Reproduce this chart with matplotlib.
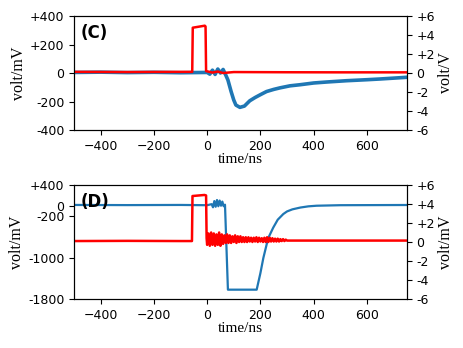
import numpy as np
import matplotlib
matplotlib.use("Agg")
import matplotlib.pyplot as plt

# ---- panel (C) ----
# blue trace, left axis (mV)
c_blue_t = [-500, -400, -300, -200, -100, 0, 10, 20, 30, 40, 50, 60, 70, 78, 90, 100, 108,
            123, 140, 160, 180, 200, 223, 250, 274, 311, 350, 400, 450, 524, 600, 649, 700, 750]
c_blue_v = [4, 6, 3, 5, 2, 4, -8, 20, -10, 28, 0, 25, -15, -49, -130, -190, -225,
            -241, -232, -195, -172, -152, -130, -115, -104, -90, -82, -70, -63, -54, -47, -42, -36, -30]
# red trace, right axis (V)
c_red_t = [-500, -300, -100, -56, -54, -9, -6, -4, 20, 40, 60, 100, 300, 500, 750]
c_red_v = [0.12, 0.1, 0.12, 0.12, 4.77, 4.98, 4.9, 0.2, 0.05, 0.15, 0.0, 0.1, 0.08, 0.07, 0.07]

# ---- panel (D) ----
# blue trace, left axis (mV)
d_blue_t = [-500, -300, -100, 0, 17, 22, 27, 32, 37, 42, 47, 52, 57, 62, 67, 78, 186,
            200, 211, 229, 248, 265, 286, 300, 320, 350, 380, 411, 500, 750]
d_blue_v = [15, 12, 15, 10, 30, -30, 90, -20, 110, -10, 100, 0, 80, -10, 20, -1620, -1620,
            -1300, -1009, -629, -424, -270, -160, -110, -70, -35, -12, 0, 10, 14]
# red trace, right axis (V)
d_red_t = [-500, -300, -100, -57, -55, -10, -4, -2, 0, 5, 10, 15, 20, 25, 30, 35, 40, 45,
           50, 55, 60, 65, 70, 75, 80, 85, 90, 95, 100, 105, 110, 115, 120, 125, 130, 135,
           140, 145, 150, 155, 160, 165, 170, 175, 180, 185, 190, 195, 200, 205, 210, 215,
           220, 225, 230, 235, 240, 245, 250, 255, 260, 265, 270, 275, 280, 285, 290, 295,
           300, 500, 750]
d_red_v = [0.1, 0.12, 0.1, 0.1, 4.84, 4.95, 4.9, 0.4, -0.3, 0.9, -0.4, 1.0, -0.3, 0.9, -0.4, 0.8,
           -0.3, 1.0, -0.4, 0.8, -0.2, 0.7, -0.1, 0.8, -0.1, 0.7, -0.1, 0.6, 0.0, 0.7, -0.1,
           0.6, 0.0, 0.6, 0.0, 0.5, 0.0, 0.5, 0.0, 0.5, 0.05, 0.45, 0.0, 0.45, 0.05, 0.5,
           0.0, 0.45, 0.05, 0.4, 0.0, 0.45, 0.0, 0.5, 0.0, 0.45, 0.05, 0.4, 0.05, 0.35,
           0.05, 0.35, 0.05, 0.3, 0.1, 0.3, 0.1, 0.25, 0.15, 0.15, 0.15]

x_ticks = [-400, -200, 0, 200, 400, 600]
c_left_ticks = [400, 200, 0, -200, -400]
c_left_labels = ["+400", "+200", "0", "-200", "-400"]
d_left_ticks = [400, 0, -200, -1000, -1800]
d_left_labels = ["+400", "0", "-200", "-1000", "-1800"]
right_ticks = [6, 4, 2, 0, -2, -4, -6]
right_labels = ["+6", "+4", "+2", "0", "-2", "-4", "-6"]

BLUE = "#1f77b4"
RED = "#ff0000"
serif = "Liberation Serif"

fig = plt.figure(figsize=(4.63, 3.48), dpi=100)
axC = fig.add_axes([0.1598, 0.6264, 0.719, 0.3276])
axD = fig.add_axes([0.1598, 0.1408, 0.719, 0.3276])


def setup(ax, bt, bv, rt, rv, lticks, llabels, ylim, rlabel, tag, blw):
    ax.plot(bt, bv, color=BLUE, lw=blw)
    ax.set_xlim(-500, 750)
    ax.set_ylim(*ylim)
    ax.set_xticks(x_ticks)
    ax.set_yticks(lticks)
    ax.set_yticklabels(llabels)
    ax.tick_params(labelsize=9)
    ax.set_xlabel("time/ns", family=serif, fontsize=11, labelpad=0)
    ax.set_ylabel("volt/mV", family=serif, fontsize=11.5, labelpad=2)
    ax.text(0.02, 0.93, tag, transform=ax.transAxes, fontsize=12,
            fontweight="bold", va="top", ha="left")
    tw = ax.twinx()
    tw.plot(rt, rv, color=RED, lw=1.8)
    tw.set_ylim(-6, 6)
    tw.set_yticks(right_ticks)
    tw.set_yticklabels(right_labels)
    tw.tick_params(labelsize=9)
    tw.set_ylabel(rlabel, family=serif, fontsize=11.5, labelpad=2)
    return tw


setup(axC, c_blue_t, c_blue_v, c_red_t, c_red_v, c_left_ticks, c_left_labels,
      (-400, 400), "volt/V", "(C)", 2.6)
setup(axD, d_blue_t, d_blue_v, d_red_t, d_red_v, d_left_ticks, d_left_labels,
      (-1800, 400), "volt/mV", "(D)", 1.6)

fig.savefig("out.png", dpi=100)
